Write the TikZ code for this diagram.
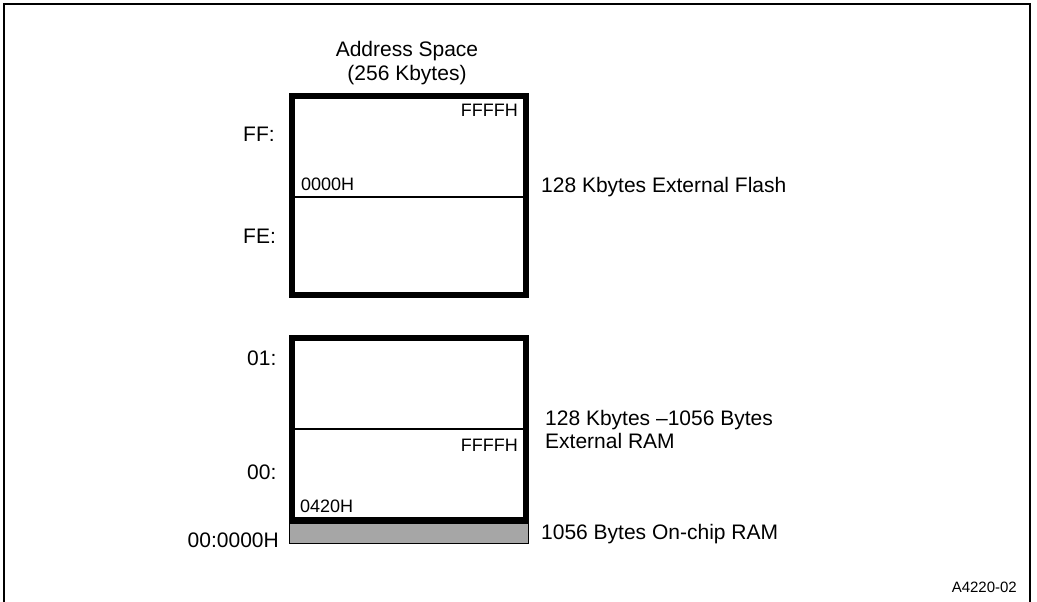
\documentclass[tikz,border=0pt]{standalone}
\usepackage{fontspec}
\setmainfont{Liberation Sans}
\begin{document}
\begin{tikzpicture}[x=1pt,y=-1pt,
  lbl/.style={inner sep=0pt,font=\fontsize{21}{24}\selectfont},
  inlbl/.style={inner sep=0pt,font=\fontsize{18}{21}\selectfont},
  tag/.style={inner sep=0pt,font=\fontsize{15}{18}\selectfont},
  membox/.style={draw,line width=5.5pt,inner sep=0pt,minimum width=234pt},
  divider/.style={line width=1.3pt},
  onchip/.style={draw,line width=0.9pt,fill=black!35,inner sep=0pt,minimum width=239pt,minimum height=20pt}]
\useasboundingbox (0,0) rectangle (1037,602);
% frame (open at bottom)
\draw[line width=2pt] (3.5,602) -- (3.5,4) -- (1029.5,4) -- (1029.5,602);
% title
\node[lbl,anchor=base] (t1) at (407,57) {Address Space};
\node[lbl,anchor=base] (t2) at (407,81) {(256 Kbytes)};
% upper box (flash)
\node[membox,minimum height=199pt] (flash) at (409,195.5) {};
\coordinate (fdl) at (292,197);
\coordinate (fdr) at (526,197);
\draw[divider] (fdl) -- (fdr);
\node[inlbl,anchor=base east] (fffh1) at (518,117) {FFFFH};
\node[inlbl,anchor=base west] (f0000) at (301,190) {0000H};
\node[lbl,anchor=base west] (ff) at (243,142) {FF:};
\node[lbl,anchor=base west] (fe) at (243,243) {FE:};
\node[lbl,anchor=base west] (flashlbl) at (541,192) {128 Kbytes External Flash};
% lower box (RAM)
\node[membox,minimum height=182pt] (ram) at (409,429) {};
\coordinate (rdl) at (292,429);
\coordinate (rdr) at (526,429);
\draw[divider] (rdl) -- (rdr);
\node[inlbl,anchor=base east] (fffh2) at (518,451) {FFFFH};
\node[inlbl,anchor=base west] (r0420) at (300,512) {0420H};
\node[lbl,anchor=base west] (s01) at (247,365) {01:};
\node[lbl,anchor=base west] (s00) at (247,479) {00:};
\node[lbl,anchor=base west] (raml1) at (545,425) {128 Kbytes {\char"2013}1056 Bytes};
\node[lbl,anchor=base west] (raml2) at (545,448) {External RAM};
% on-chip RAM bar
\node[onchip] (chip) at (409,533) {};
\node[lbl,anchor=base east] (addr0) at (279,547) {00:0000H};
\node[lbl,anchor=base west] (chiplbl) at (541,539) {1056 Bytes On-chip RAM};
\node[tag,anchor=base east] (fig) at (1017,592) {A4220-02};
\end{tikzpicture}
\end{document}
